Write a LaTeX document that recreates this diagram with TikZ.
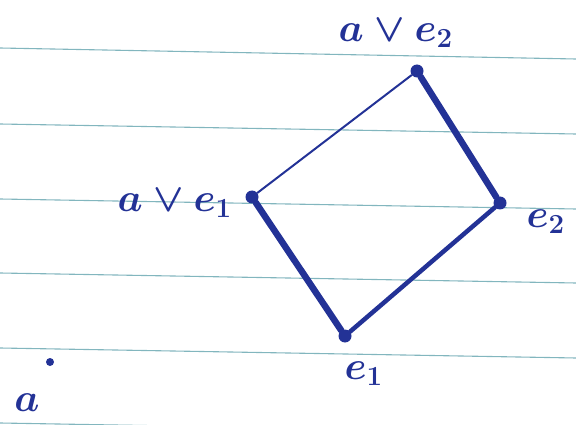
\documentclass[tikz,border=0pt]{standalone}
\usepackage{amsmath}
\usepackage{amssymb}
\usepackage{xcolor}
\usepackage{graphicx}
\usepackage{tikz}
\definecolor{ink}{RGB}{35,50,150}
\definecolor{rule}{RGB}{130,182,190}
\newcommand{\pen}[1]{\scalebox{2.3}{\boldmath$#1$}}
\tikzset{
  vtx/.style={circle, fill=ink, inner sep=0pt, minimum size=13pt},
  lbl/.style={ink, inner sep=0pt, font=\LARGE},
  heavy/.style={ink, line width=6.5pt, line cap=round},
  light/.style={ink, line width=2pt, line cap=round}
}

\begin{document}
\begin{tikzpicture}[x=1pt,y=-1pt]
  \useasboundingbox (0,0) rectangle (576,425);
  % ---- ruled paper ----
  \foreach \yl/\yr in {48/59,124/134,199/209,273/283,348/358,423/433}
    \draw[rule, line width=1.1pt] (0,\yl) -- (576,\yr);
  % ---- the lattice ----
  \node[vtx] (top) at (417,71) {};
  \node[vtx] (left) at (252,197) {};
  \node[vtx] (right) at (500,203) {};
  \node[vtx] (bot) at (345,336) {};
  \draw[light] (left) -- (top);
  \draw[heavy] (top) -- (right);
  \draw[heavy] (left) -- (bot);
  \draw[ink, line width=4.5pt, line cap=round] (bot) -- (right);
  \node[lbl] (ltop) at (396,33) {\pen{a\vee e_2}};
  \node[lbl] (lleft) at (175,203) {\pen{a\vee e_1}};
  \node[lbl] (lright) at (546,222) {\pen{e_2}};
  \node[lbl] (lbot) at (364,374) {\pen{e_1}};
  % ---- the point a ----
  \node[circle, fill=ink, inner sep=0pt, minimum size=8pt] (pa) at (50,362) {};
  \node[lbl] (la) at (27,403) {\pen{a}};
\end{tikzpicture}
\end{document}
